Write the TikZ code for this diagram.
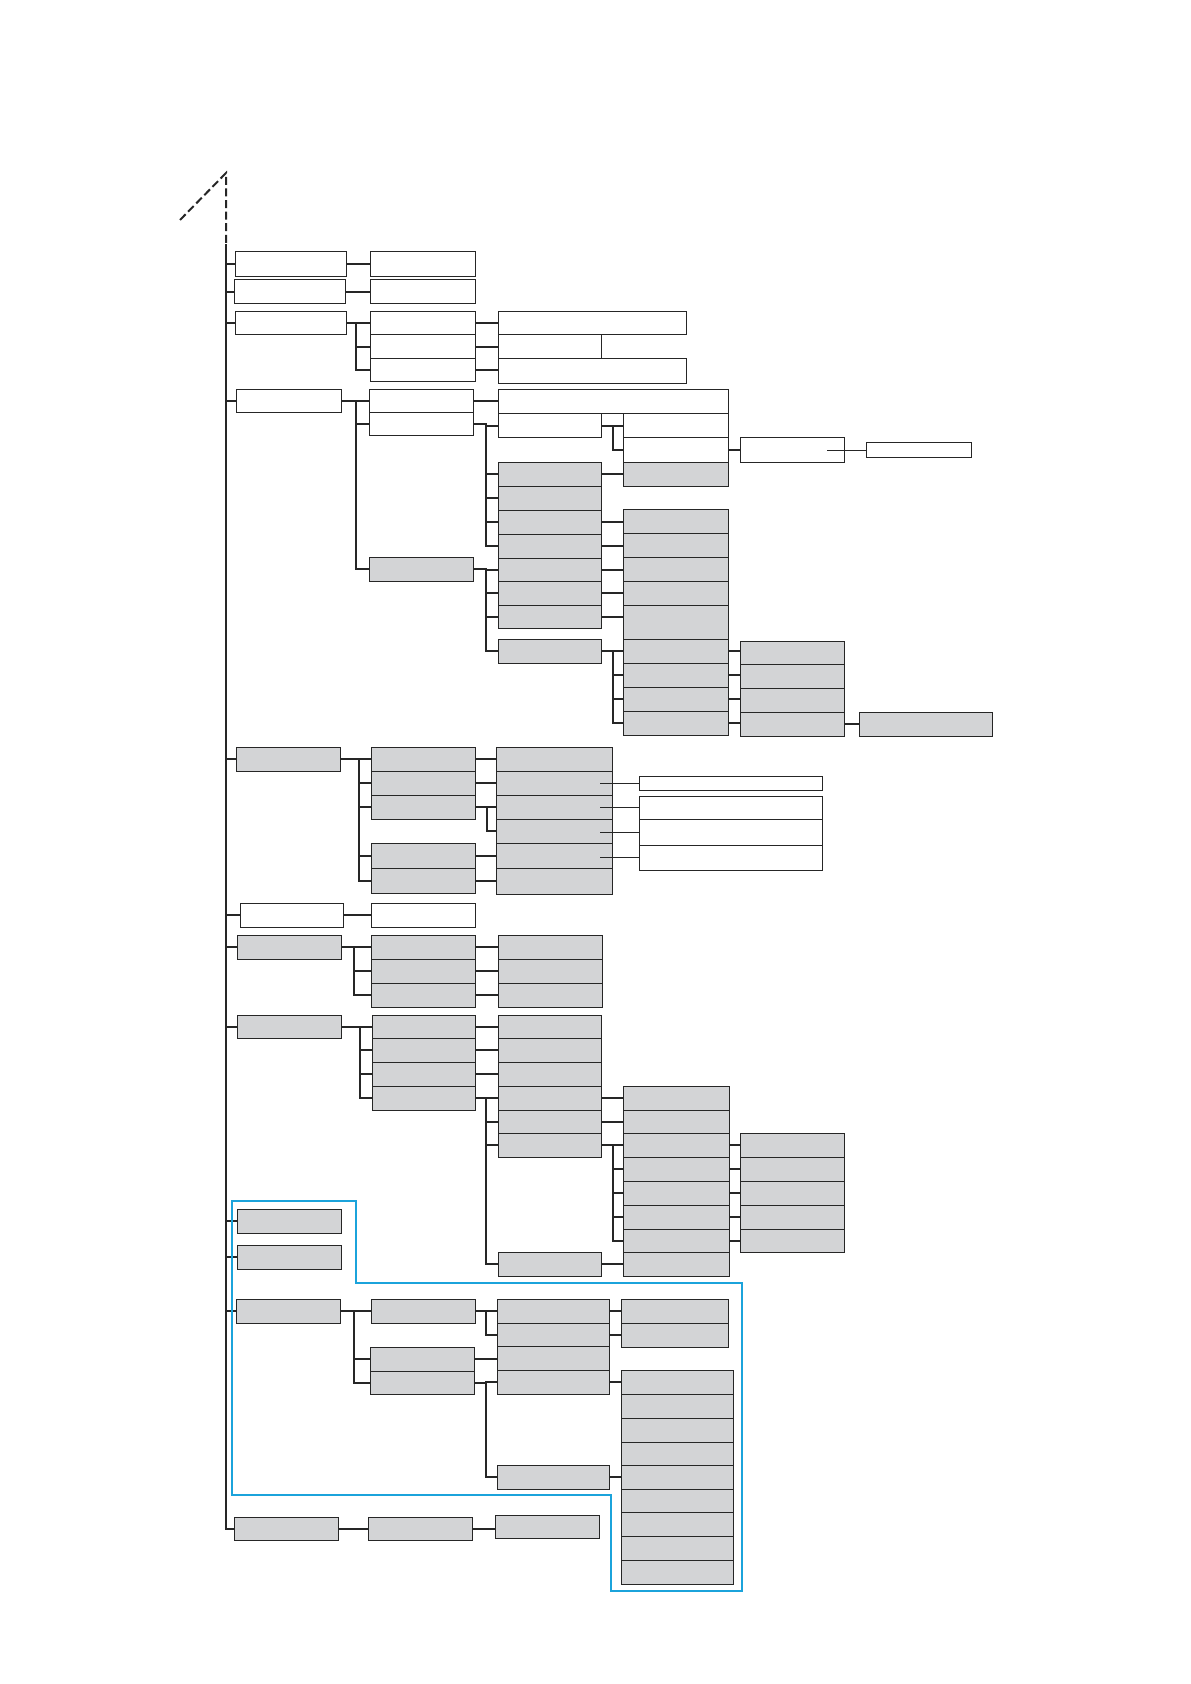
\documentclass[tikz,border=0pt]{standalone}
\usetikzlibrary{calc}

\definecolor{grisboite}{RGB}{211,212,214}
\definecolor{bleucadre}{RGB}{27,163,219}

\tikzset{
  boite/.style={draw=black!85, line width=0.5pt, fill=white, inner sep=0pt, outer sep=0pt},
  grise/.style={boite, fill=grisboite},
  lien/.style={line width=1pt, black!85},
  fin/.style={line width=0.45pt, black!85},
  cadre/.style={line width=0.9pt, bleucadre}
}

% boite : style, nom, x1, y1, x2, y2
\newcommand{\boite}[6]{\node[#1, anchor=north west,
  minimum width={(#5-#3)*0.5pt}, minimum height={(#6-#4)*0.5pt}] (#2) at (#3,#4) {};}
% lien droit et lien en crochet
\newcommand{\droit}[2]{\draw[lien] (#1.east) -- (#1.east -| #2.west);}
\newcommand{\branche}[3]{\draw[lien] (#1.east) -| ($(#2.west)+(-#3,0)$) -- (#2.west);}

\begin{document}
\begin{tikzpicture}[x=0.5pt, y=-0.5pt]
\useasboundingbox (0,0) rectangle (1190,1684);

% Pointe
\coordinate (pointe) at (226,173);
\coordinate (queue) at (180,220);
\coordinate (tronc) at (226,244);
\draw[lien, dash pattern=on 4pt off 1.8pt] (queue) -- (pointe) -- (tronc);

% Lignes 1 a 3
\boite{boite}{A1}{235}{252}{346}{277}
\boite{boite}{B1}{370}{252}{475}{277}
\boite{boite}{A2}{234}{280}{345}{304}
\boite{boite}{B2}{370}{280}{475}{304}
\boite{boite}{A3}{235}{312}{346}{335}
\boite{boite}{B3a}{370}{312}{475}{335}
\boite{boite}{B3b}{370}{335}{475}{359}
\boite{boite}{B3c}{370}{359}{475}{382}
\boite{boite}{C3a}{498}{312}{686}{335}
\boite{boite}{C3b}{498}{335}{601}{359}
\boite{boite}{C3c}{498}{359}{686}{384}

% Ligne 4
\boite{boite}{A4}{236}{390}{341}{413}
\boite{boite}{B4a}{369}{390}{473}{413}
\boite{boite}{B4b}{369}{413}{473}{436}
\boite{grise}{B4c}{369}{557}{473}{581}
\boite{boite}{C4a}{498}{390}{728}{414}
\boite{boite}{C4b}{498}{414}{601}{438}
\boite{grise}{C4c}{498}{462}{601}{486}
\boite{grise}{C4d}{498}{486}{601}{510}
\boite{grise}{C4e}{498}{510}{601}{534}
\boite{grise}{C4f}{498}{534}{601}{558}
\boite{grise}{C4g}{498}{558}{601}{581}
\boite{grise}{C4h}{498}{581}{601}{605}
\boite{grise}{C4i}{498}{605}{601}{628}
\boite{grise}{C4j}{498}{639}{601}{663}
\boite{boite}{D4a}{623}{414}{728}{438}
\boite{boite}{D4b}{623}{438}{728}{462}
\boite{grise}{D4c}{623}{462}{728}{486}
\boite{grise}{D4d}{623}{509}{728}{533}
\boite{grise}{D4e}{623}{533}{728}{557}
\boite{grise}{D4f}{623}{557}{728}{581}
\boite{grise}{D4g}{623}{581}{728}{605}
\boite{grise}{D4h}{623}{605}{728}{639}
\boite{grise}{D4i}{623}{639}{728}{663}
\boite{grise}{D4j}{623}{663}{728}{687}
\boite{grise}{D4k}{623}{687}{728}{711}
\boite{grise}{D4l}{623}{711}{728}{735}
\boite{boite}{E4a}{740}{438}{844}{462}
\boite{grise}{E4b}{740}{641}{844}{664}
\boite{grise}{E4c}{740}{664}{844}{688}
\boite{grise}{E4d}{740}{688}{844}{712}
\boite{grise}{E4e}{740}{712}{844}{736}
\boite{boite}{F4a}{866}{443}{971}{457}
\boite{grise}{F4b}{859}{712}{992}{736}

% Ligne 5
\boite{grise}{A5}{236}{747}{340}{771}
\boite{grise}{B5a}{371}{747}{475}{771}
\boite{grise}{B5b}{371}{771}{475}{795}
\boite{grise}{B5c}{371}{795}{475}{819}
\boite{grise}{B5d}{371}{843}{475}{868}
\boite{grise}{B5e}{371}{868}{475}{893}
\boite{grise}{C5a}{496}{747}{612}{771}
\boite{grise}{C5b}{496}{771}{612}{795}
\boite{grise}{C5c}{496}{795}{612}{819}
\boite{grise}{C5d}{496}{819}{612}{843}
\boite{grise}{C5e}{496}{843}{612}{868}
\boite{grise}{C5f}{496}{868}{612}{894}
\boite{boite}{D5a}{639}{776}{822}{790}
\boite{boite}{D5b}{639}{796}{822}{819}
\boite{boite}{D5c}{639}{819}{822}{845}
\boite{boite}{D5d}{639}{845}{822}{870}

% Lignes 6 et 7
\boite{boite}{A6}{240}{903}{343}{927}
\boite{boite}{B6}{371}{903}{475}{927}
\boite{grise}{A7}{237}{935}{341}{959}
\boite{grise}{B7a}{371}{935}{475}{959}
\boite{grise}{B7b}{371}{959}{475}{983}
\boite{grise}{B7c}{371}{983}{475}{1007}
\boite{grise}{C7a}{498}{935}{602}{959}
\boite{grise}{C7b}{498}{959}{602}{983}
\boite{grise}{C7c}{498}{983}{602}{1007}

% Ligne 8
\boite{grise}{A8}{237}{1015}{341}{1038}
\boite{grise}{B8a}{372}{1015}{475}{1038}
\boite{grise}{B8b}{372}{1038}{475}{1062}
\boite{grise}{B8c}{372}{1062}{475}{1086}
\boite{grise}{B8d}{372}{1086}{475}{1110}
\boite{grise}{C8a}{498}{1015}{601}{1038}
\boite{grise}{C8b}{498}{1038}{601}{1062}
\boite{grise}{C8c}{498}{1062}{601}{1086}
\boite{grise}{C8d}{498}{1086}{601}{1110}
\boite{grise}{C8e}{498}{1110}{601}{1133}
\boite{grise}{C8f}{498}{1133}{601}{1157}
\boite{grise}{C8g}{498}{1252}{601}{1276}
\boite{grise}{D8a}{623}{1086}{729}{1110}
\boite{grise}{D8b}{623}{1110}{729}{1133}
\boite{grise}{D8c}{623}{1133}{729}{1157}
\boite{grise}{D8d}{623}{1157}{729}{1181}
\boite{grise}{D8e}{623}{1181}{729}{1205}
\boite{grise}{D8f}{623}{1205}{729}{1229}
\boite{grise}{D8g}{623}{1229}{729}{1252}
\boite{grise}{D8h}{623}{1252}{729}{1276}
\boite{grise}{E8a}{740}{1133}{844}{1157}
\boite{grise}{E8b}{740}{1157}{844}{1181}
\boite{grise}{E8c}{740}{1181}{844}{1205}
\boite{grise}{E8d}{740}{1205}{844}{1229}
\boite{grise}{E8e}{740}{1229}{844}{1252}

% Lignes 9 et 10
\boite{grise}{A9}{237}{1209}{341}{1233}
\boite{grise}{A10}{237}{1245}{341}{1269}

% Ligne 11
\boite{grise}{A11}{236}{1299}{340}{1323}
\boite{grise}{B11a}{371}{1299}{475}{1323}
\boite{grise}{B11b}{370}{1347}{474}{1371}
\boite{grise}{B11c}{370}{1371}{474}{1394}
\boite{grise}{C11a}{497}{1299}{609}{1323}
\boite{grise}{C11b}{497}{1323}{609}{1346}
\boite{grise}{C11c}{497}{1346}{609}{1370}
\boite{grise}{C11d}{497}{1370}{609}{1394}
\boite{grise}{C11e}{497}{1465}{609}{1489}
\boite{grise}{D11a}{621}{1299}{728}{1323}
\boite{grise}{D11b}{621}{1323}{728}{1347}
\boite{grise}{D11c}{621}{1370}{733}{1394}
\boite{grise}{D11d}{621}{1394}{733}{1418}
\boite{grise}{D11e}{621}{1418}{733}{1442}
\boite{grise}{D11f}{621}{1442}{733}{1465}
\boite{grise}{D11g}{621}{1465}{733}{1489}
\boite{grise}{D11h}{621}{1489}{733}{1512}
\boite{grise}{D11i}{621}{1512}{733}{1536}
\boite{grise}{D11j}{621}{1536}{733}{1560}
\boite{grise}{D11k}{621}{1560}{733}{1584}

% Ligne 12
\boite{grise}{A12}{234}{1517}{338}{1540}
\boite{grise}{B12}{368}{1517}{472}{1540}
\boite{grise}{C12}{495}{1515}{599}{1538}

% Tronc
\draw[lien] (tronc) -- (tronc |- A12.west) -- (A12.west);
\foreach \a in {A1,A2,A3,A4,A5,A6,A7,A8,A9,A10,A11}
  \draw[lien] (tronc |- \a.west) -- (\a.west);

% Liens
\droit{A1}{B1}
\droit{A2}{B2}
\foreach \c in {B3a,B3b,B3c} {\branche{A3}{\c}{14}}
\droit{B3a}{C3a}
\droit{B3b}{C3b}
\droit{B3c}{C3c}

\foreach \c in {B4a,B4b,B4c} {\branche{A4}{\c}{13}}
\droit{B4a}{C4a}
\foreach \c in {C4b,C4c,C4d,C4e,C4f} {\branche{B4b}{\c}{12}}
\foreach \c in {C4g,C4h,C4i,C4j} {\branche{B4c}{\c}{12}}
\branche{C4b}{D4a}{10}
\branche{C4b}{D4b}{10}
\droit{C4c}{D4c}
\droit{C4e}{D4d}
\droit{C4f}{D4e}
\droit{C4g}{D4f}
\droit{C4h}{D4g}
\droit{C4i}{D4h}
\foreach \c in {D4i,D4j,D4k,D4l} {\branche{C4j}{\c}{10}}
\droit{D4b}{E4a}
\droit{D4i}{E4b}
\droit{D4j}{E4c}
\droit{D4k}{E4d}
\droit{D4l}{E4e}
\droit{E4e}{F4b}
\draw[fin] ($(F4a.west -| E4a.east)+(-17,0)$) -- (F4a.west);

\foreach \c in {B5a,B5b,B5c,B5d,B5e} {\branche{A5}{\c}{12}}
\droit{B5a}{C5a}
\droit{B5b}{C5b}
\branche{B5c}{C5c}{9}
\branche{B5c}{C5d}{9}
\droit{B5d}{C5e}
\droit{B5e}{C5f}
\draw[fin] ($(D5a.west -| C5b.east)+(-12,0)$) -- (D5a.west);
\draw[fin] ($(D5b.west -| C5c.east)+(-12,0)$) -- (D5b.west);
\draw[fin] ($(D5c.west -| C5d.east)+(-12,0)$) -- (D5c.west);
\draw[fin] ($(D5d.west -| C5e.east)+(-12,0)$) -- (D5d.west);

\droit{A6}{B6}
\foreach \c in {B7a,B7b,B7c} {\branche{A7}{\c}{17}}
\droit{B7a}{C7a}
\droit{B7b}{C7b}
\droit{B7c}{C7c}

\foreach \c in {B8a,B8b,B8c,B8d} {\branche{A8}{\c}{12}}
\droit{B8a}{C8a}
\droit{B8b}{C8b}
\droit{B8c}{C8c}
\foreach \c in {C8d,C8e,C8f,C8g} {\branche{B8d}{\c}{12}}
\droit{C8d}{D8a}
\droit{C8e}{D8b}
\foreach \c in {D8c,D8d,D8e,D8f,D8g} {\branche{C8f}{\c}{10}}
\droit{C8g}{D8h}
\droit{D8c}{E8a}
\droit{D8d}{E8b}
\droit{D8e}{E8c}
\droit{D8f}{E8d}
\droit{D8g}{E8e}

\foreach \c in {B11a,B11b,B11c} {\branche{A11}{\c}{16}}
\branche{B11a}{C11a}{11}
\branche{B11a}{C11b}{11}
\droit{B11b}{C11c}
\branche{B11c}{C11d}{11}
\branche{B11c}{C11e}{11}
\droit{C11a}{D11a}
\droit{C11b}{D11b}
\droit{C11d}{D11c}
\droit{C11e}{D11g}

\droit{A12}{B12}
\droit{B12}{C12}

% Cadre bleu
\draw[cadre] (232,1201) -- (356,1201) -- (356,1283) -- (742,1283)
  -- (742,1591) -- (611,1591) -- (611,1495) -- (232,1495) -- cycle;

\end{tikzpicture}
\end{document}
